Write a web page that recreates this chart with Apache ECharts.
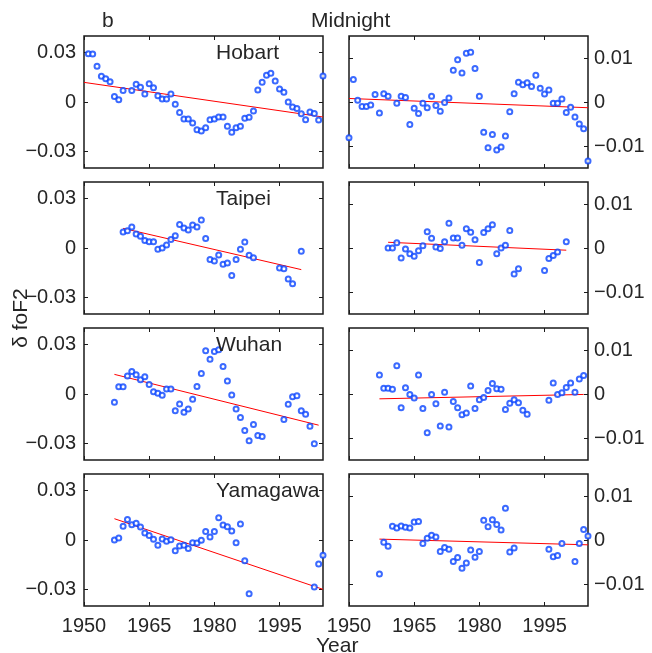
<!DOCTYPE html>
<html><head><meta charset="utf-8">
<script src="https://cdn.jsdelivr.net/npm/echarts@6/dist/echarts.min.js"></script>
<style>html,body{margin:0;padding:0;background:#fff}#c{width:652px;height:653px}</style>
</head><body><div id="c"></div>
<script>
// ---- data ----
const years = [1950,1951,1952,1953,1954,1955,1956,1957,1958,1959,1960,1961,1962,1963,1964,1965,1966,1967,1968,1969,1970,1971,1972,1973,1974,1975,1976,1977,1978,1979,1980,1981,1982,1983,1984,1985,1986,1987,1988,1989,1990,1991,1992,1993,1994,1995,1996,1997,1998,1999,2000,2001,2002,2003,2004,2005];
const stations = ['Hobart','Taipei','Wuhan','Yamagawa'];
const xTicks = [1950,1965,1980,1995];
const yTicksLeft = [-0.03,0,0.03];
const yTicksRight = [-0.01,0,0.01];

const hobartLeft = [null,0.0293,0.0291,0.0216,0.0156,0.0141,0.0123,0.0034,0.0014,0.0069,null,
 0.0069,0.0107,0.0089,0.0048,0.0111,0.0087,0.0038,0.0018,0.0018,0.0048,-0.0014,-0.0063,-0.0103,-0.0103,-0.0127,-0.0168,-0.0176,-0.0156,-0.0107,-0.0103,-0.0091,-0.0091,-0.0147,-0.0184,-0.0156,-0.0147,-0.0099,-0.0093,-0.0055,0.0073,0.0119,0.0162,0.0174,0.0127,0.0079,0.0059,0,-0.003,-0.004,-0.0071,-0.0107,-0.0061,-0.0069,-0.0109,0.0158];
const hobartRight = [-0.0081,0.0051,0.0004,-0.001,-0.001,-0.0007,0.0017,-0.0025,0.0019,0.0013,null,
 -0.0003,0.0013,0.001,-0.0051,-0.0014,-0.0026,-0.0003,-0.0013,0.0013,-0.0008,-0.0021,-0.0001,0.0009,0.0072,0.0096,0.0066,0.0111,0.0113,0.0076,0.0013,-0.0069,-0.0104,-0.0074,-0.0109,-0.0102,-0.0077,-0.0022,0.0019,0.0045,0.0039,0.0044,0.0035,0.0061,0.0031,0.0018,0.0027,-0.0003,-0.0003,0.0007,-0.0024,-0.0012,-0.0034,-0.005,-0.0061,-0.0134];
const taipeiLeft = [null,null,null,null,null,null,null,null,null,
 0.0097,0.0105,0.0127,0.0085,0.0071,0.0046,0.0038,0.0038,-0.0008,0,0.0018,0.0051,0.0075,0.0143,0.0121,0.0109,0.0139,0.0127,0.017,0.0057,-0.0069,-0.0079,-0.0042,-0.0099,-0.0091,-0.0166,-0.0069,-0.0008,0.0036,-0.0044,-0.0059,
 null,null,null,null,null,-0.0121,-0.0125,-0.0188,-0.0216,null,-0.002,null,null,null,null,null];
const taipeiRight = [null,null,null,null,null,null,null,null,null,
 0,0,0.0012,-0.0023,-0.0002,-0.0013,-0.0019,-0.0006,0.0005,0.0037,0.0022,0.0002,-0.0001,0.0014,0.0056,0.0023,0.0023,0.0006,0.0044,0.0036,0.0019,-0.0033,0.0035,0.0044,0.0053,-0.0013,0,0.0006,0.004,-0.0059,-0.0047,
 null,null,null,null,null,-0.0051,-0.0024,-0.0017,-0.0009,null,0.0014,null,null,null,null,null];
const wuhanLeft = [null,null,null,null,null,null,null,
 -0.005,0.0044,0.0044,0.0109,0.0137,0.0117,0.0087,0.0105,0.0058,0.0014,0.0004,-0.0008,0.003,0.003,-0.0101,-0.006,-0.0111,-0.0091,-0.0032,0.0046,0.0125,0.0262,0.0211,0.0258,0.0268,0.0167,0.0079,-0.0006,-0.0091,-0.0143,-0.0221,-0.0284,-0.0185,-0.0252,-0.0258,
 null,null,null,null,-0.0155,-0.0062,-0.0016,-0.001,-0.0101,-0.0123,-0.0195,-0.0302,null,null];
const wuhanRight = [null,null,null,null,null,null,null,
 0.0043,0.0013,0.0013,0.0011,0.0064,-0.0031,0.0014,-0.0001,-0.0009,0.0043,-0.0033,-0.0088,-0.0001,-0.0022,-0.0073,0.0004,-0.0075,-0.0017,-0.0031,-0.0047,-0.0043,0.0018,-0.0033,-0.0013,-0.0008,0.0008,0.0024,0.0012,0.0011,-0.0035,-0.0021,-0.0013,-0.002,-0.0037,-0.0046,
 null,null,null,null,-0.0014,0.0025,-0.0001,0.0003,0.0015,0.0025,0.0004,0.0034,0.0042,null];
const yamagawaLeft = [null,null,null,null,null,null,null,
 0,0.0012,0.0083,0.0125,0.0093,0.0101,0.0079,0.0042,0.0028,0.0004,-0.0032,0.0006,-0.0008,0.0002,-0.0065,-0.0036,-0.0032,-0.0051,-0.0016,-0.0018,-0.0002,0.0051,0.0018,0.0051,0.0135,0.0091,0.0081,0.0055,-0.0016,0.0097,-0.0125,-0.0325,
 null,null,null,null,null,null,null,null,null,null,null,null,null,null,-0.0285,-0.0145,-0.0093];
const yamagawaRight = [null,null,null,null,null,null,null,
 -0.0077,-0.0005,-0.0014,0.0031,0.0027,0.0032,0.0029,0.0027,0.0041,0.0042,-0.0008,0.0004,0.0011,0.0007,-0.0026,-0.0017,-0.0021,-0.0049,-0.004,-0.0064,-0.0052,-0.0023,-0.0039,-0.0026,0.0045,0.003,0.0046,0.0035,0.0023,0.0072,-0.0027,-0.0018,
 null,null,null,null,null,null,null,-0.0021,-0.0038,-0.0035,-0.0008,null,null,-0.0049,-0.0008,0.0024,0.0009];

const hobartTrendLeft = [[1950,0.0119],[2005,-0.0091]];
const hobartTrendRight = [[1950,0.0008],[2005,-0.0013]];
const taipeiTrendLeft = [[1959,0.0119],[2000,-0.0131]];
const taipeiTrendRight = [[1959,0.0013],[2000,-0.0005]];
const wuhanTrendLeft = [[1957,0.0119],[2004,-0.0189]];
const wuhanTrendRight = [[1957,-0.0011],[2004,-0.0001]];
const yamagawaTrendLeft = [[1957,0.0129],[2005,-0.0299]];
const yamagawaTrendRight = [[1957,0.0002],[2005,-0.0011]];

// ---- layout ----
const panels = [
  {vals: hobartLeft, trend: hobartTrendLeft}, {vals: hobartRight, trend: hobartTrendRight},
  {vals: taipeiLeft, trend: taipeiTrendLeft}, {vals: taipeiRight, trend: taipeiTrendRight},
  {vals: wuhanLeft, trend: wuhanTrendLeft}, {vals: wuhanRight, trend: wuhanTrendRight},
  {vals: yamagawaLeft, trend: yamagawaTrendLeft}, {vals: yamagawaRight, trend: yamagawaTrendRight}
];
const rowTops = [36, 182, 328, 474];
const colLefts = [84, 349];
const PW = 239, PH = 132;
const FONT = 'Liberation Sans, Arial, Helvetica, sans-serif';
const TXT = '#262626';
const EDGE = '#1a1a1a';
const MARK = '#0a45ff';

const grid = [], xAxis = [], yAxis = [], series = [], graphic = [];
panels.forEach((p, i) => {
  const r = Math.floor(i / 2), c = i % 2;
  grid.push({left: colLefts[c], top: rowTops[r], width: PW, height: PH, show: true,
    borderColor: EDGE, borderWidth: 1.5, backgroundColor: 'transparent'});
  const yr = c === 0 ? [-0.04, 0.04] : [-0.015, 0.015];
  const yt = c === 0 ? yTicksLeft : yTicksRight;
  const xBase = {gridIndex: i, type: 'value', min: 1950, max: 2005,
    axisLine: {show: false, onZero: false}, splitLine: {show: false},
    axisTick: {inside: true, length: 4, lineStyle: {color: EDGE, width: 1}, customValues: xTicks}};
  xAxis.push(Object.assign({}, xBase, {position: 'bottom',
    axisLabel: {show: r === 3, customValues: xTicks, fontSize: 20, fontFamily: FONT, color: TXT, margin: 10,
      formatter: v => String(v)}}));
  xAxis.push(Object.assign({}, xBase, {position: 'top', axisLabel: {show: false}}));
  const yBase = {gridIndex: i, type: 'value', min: yr[0], max: yr[1],
    axisLine: {show: false, onZero: false}, splitLine: {show: false},
    axisTick: {inside: true, length: 4, lineStyle: {color: EDGE, width: 1}, customValues: yt}};
  yAxis.push(Object.assign({}, yBase, {position: c === 0 ? 'left' : 'right',
    axisLabel: {show: true, customValues: yt, fontSize: 20, fontFamily: FONT, color: TXT, margin: c === 0 ? 8 : 6,
      formatter: v => (Math.abs(v) < 1e-9 ? '0' : (v < 0 ? '\u2212' : '') + Math.abs(v).toFixed(2))}}));
  yAxis.push(Object.assign({}, yBase, {position: c === 0 ? 'right' : 'left', axisLabel: {show: false}}));
  const pts = [];
  years.forEach((y, k) => { if (p.vals[k] !== null) pts.push([y, p.vals[k]]); });
  series.push({type: 'line', xAxisIndex: 2 * i, yAxisIndex: 2 * i, data: p.trend,
    symbol: 'none', lineStyle: {color: '#ff0000', width: 1}, silent: true, z: 2});
  series.push({type: 'scatter', xAxisIndex: 2 * i, yAxisIndex: 2 * i, data: pts, clip: false,
    symbol: 'emptyCircle', symbolSize: 5, itemStyle: {color: MARK, borderColor: MARK, borderWidth: 1.1}, z: 3});
  if (c === 0) {
    graphic.push({type: 'text', left: 216, top: rowTops[r] + 7,
      style: {text: stations[r], font: '21px ' + FONT, fill: TXT}, z: 10});
  }
});
graphic.push({type: 'text', left: 102, top: 11, style: {text: 'b', font: '21px ' + FONT, fill: TXT}});
graphic.push({type: 'text', left: 311, top: 11, style: {text: 'Midnight', font: '21px ' + FONT, fill: TXT}});
graphic.push({type: 'text', left: 316, top: 636, style: {text: 'Year', font: '21px ' + FONT, fill: TXT}});
graphic.push({type: 'text', x: 21, y: 318, rotation: Math.PI / 2,
  style: {text: '\u03b4 foF2', font: '21px ' + FONT, fill: TXT, align: 'center', verticalAlign: 'middle'}});

const chart = echarts.init(document.getElementById('c'), null, {renderer: 'canvas'});
chart.setOption({animation: false, backgroundColor: '#fff', grid, xAxis, yAxis, series, graphic});
</script></body></html>
